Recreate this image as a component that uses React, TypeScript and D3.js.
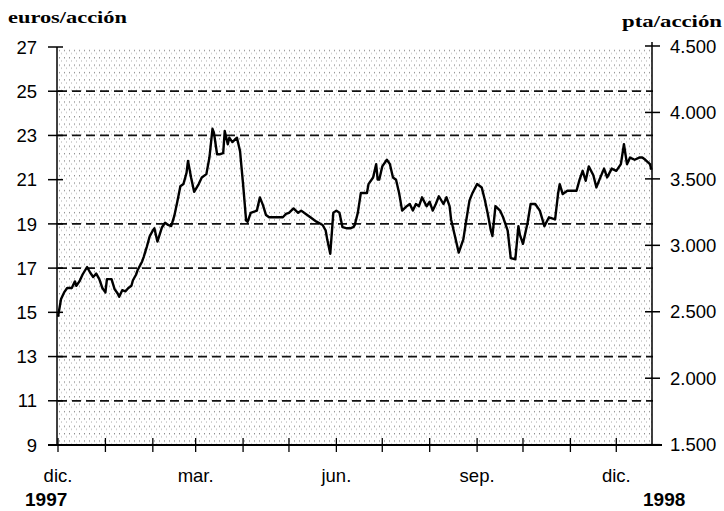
import React from "react";
import * as d3 from "d3";

// ---- data ----
const START = new Date(1997, 11, 1);
const END = new Date(1998, 11, 25);
const dayOffsets = [0,2,4,6,9,11,12,14,16,19,21,23,25,27,29,31,32,35,37,39,40,42,44,46,48,49,51,52,55,56,58,60,62,63,65,68,70,72,74,76,78,80,82,84,85,87,89,92,94,97,99,101,102,104,106,108,109,111,112,114,117,119,121,123,124,126,130,132,134,136,138,142,145,147,149,151,154,157,159,162,165,169,173,175,176,178,180,182,184,186,189,191,193,194,196,198,202,203,206,208,209,210,212,215,217,219,221,223,225,228,230,232,234,236,238,241,243,245,247,249,252,254,256,257,259,262,265,267,269,271,274,277,279,281,283,284,286,289,291,294,296,299,301,302,304,307,309,312,315,318,321,325,327,328,330,333,339,341,343,345,347,350,352,354,357,359,362,365,368,370,372,374,377,380,382,384,387,388];
const euros = [14.8,15.6,15.9,16.1,16.1,16.4,16.2,16.4,16.7,17.05,16.8,16.6,16.75,16.5,16.1,15.9,16.5,16.5,16.05,15.85,15.7,16.0,15.95,16.1,16.2,16.45,16.7,16.9,17.3,17.5,17.95,18.45,18.7,18.8,18.2,18.85,19.05,18.95,18.9,19.35,20.0,20.7,20.8,21.3,21.85,21.1,20.45,20.8,21.1,21.25,22.0,23.3,23.1,22.15,22.15,22.2,23.2,22.6,22.9,22.7,22.9,22.3,20.8,19.15,19.1,19.5,19.6,20.2,19.85,19.4,19.3,19.3,19.3,19.3,19.45,19.5,19.7,19.5,19.6,19.45,19.3,19.1,18.95,18.7,18.3,17.65,19.5,19.6,19.5,18.85,18.8,18.8,18.85,18.95,19.5,20.4,20.4,20.8,21.1,21.7,21.0,21.0,21.6,21.9,21.7,21.1,21.0,20.4,19.6,19.8,19.9,19.6,19.9,19.8,20.2,19.8,20.0,19.6,19.9,20.25,19.9,20.2,19.8,19.2,18.6,17.7,18.3,19.2,20.05,20.4,20.8,20.65,20.1,19.45,18.7,18.45,19.8,19.6,19.3,18.7,17.45,17.4,18.9,18.5,18.1,19.05,19.9,19.9,19.6,18.9,19.3,19.2,20.4,20.8,20.35,20.5,20.5,21.0,21.4,20.95,21.6,21.2,20.65,21.0,21.5,21.1,21.5,21.4,21.7,22.6,21.7,22.0,21.9,22.0,22.0,21.9,21.7,21.45];

const leftTicks = [9, 11, 13, 15, 17, 19, 21, 23, 25, 27];
const dashedGrid = [11, 13, 17, 19, 23, 25];
const rightTicks = [1500, 2000, 2500, 3000, 3500, 4000, 4500];
const PTA_PER_EURO = 166.386;
const monthLabelDates = [new Date(1997, 11, 1), new Date(1998, 2, 1), new Date(1998, 5, 1), new Date(1998, 8, 1), new Date(1998, 11, 1)];
const monthLabels = ["dic.", "mar.", "jun.", "sep.", "dic."];
const leftUnit = "euros/acción";
const rightUnit = "pta/acción";
const yearLeft = "1997";
const yearRight = "1998";

export default function App() {
  const W = 724, H = 511;
  const x = d3.scaleTime().domain([START, END]).range([58, 653]);
  const yL = d3.scaleLinear().domain([9, 27]).range([445, 47]);
  const yR = d3.scaleLinear().domain([9 * PTA_PER_EURO, 27 * PTA_PER_EURO]).range([445, 47]);
  const fmt = d3.formatLocale({ decimal: ",", thousands: ".", grouping: [3], currency: ["", "€"] }).format(",");
  const data = dayOffsets.map((d, i) => ({ date: d3.timeDay.offset(START, d), v: euros[i] }));
  const line = d3.line<{ date: Date; v: number }>().x(d => x(d.date)).y(d => yL(d.v));
  const monthTicks = d3.timeMonth.range(START, d3.timeDay.offset(new Date(1998, 11, 1), 1));
  const sans = "'Liberation Sans', Arial, sans-serif";
  const serif = "'Liberation Serif', 'Times New Roman', serif";
  const x0 = x.range()[0], x1 = x.range()[1];
  return (
    <svg width={W} height={H} style={{ position: "absolute", left: 0, top: 0, background: "#fff" }}>
      <defs>
        <pattern id="dots" width="5" height="7.37" patternUnits="userSpaceOnUse" x={x0} y={47}>
          <rect x="1" y="3" width="1" height="1" fill="#666" />
          <rect x="3" y="6" width="1" height="1" fill="#aaa" />
        </pattern>
      </defs>
      <rect x={x0} y={47} width={x1 - x0} height={445 - 47} fill="url(#dots)" />
      {dashedGrid.map(v => (
        <line key={v} x1={x0} x2={x1} y1={yL(v)} y2={yL(v)} stroke="#111" strokeWidth={1.8} strokeDasharray="9 5" />
      ))}
      {/* axes */}
      <line x1={x0 - 1} x2={x0 - 1} y1={47} y2={446} stroke="#000" strokeWidth={1.5} />
      <line x1={x1 - 1} x2={x1 - 1} y1={42} y2={446} stroke="#000" strokeWidth={1.5} />
      <line x1={48} x2={662} y1={445} y2={445} stroke="#000" strokeWidth={1.8} />
      {leftTicks.map(v => (
        <g key={v}>
          <line x1={48} x2={63} y1={yL(v)} y2={yL(v)} stroke="#000" strokeWidth={1.5} />
          <text x={37} y={yL(v)} dy="0.36em" textAnchor="end" fontFamily={sans} fontSize={18.5}>{v}</text>
        </g>
      ))}
      {rightTicks.map(v => (
        <g key={v}>
          <line x1={645} x2={660} y1={yR(v)} y2={yR(v)} stroke="#000" strokeWidth={1.5} />
          <text x={670} y={yR(v)} dy="0.36em" textAnchor="start" fontFamily={sans} fontSize={18.5}>{fmt(v)}</text>
        </g>
      ))}
      {monthTicks.map((d, i) => (
        <line key={i} x1={x(d)} x2={x(d)} y1={438} y2={452} stroke="#000" strokeWidth={1.3} />
      ))}
      {monthLabelDates.map((d, i) => (
        <text key={i} x={x(d)} y={482} textAnchor="middle" fontFamily={sans} fontSize={18.5}>{monthLabels[i]}</text>
      ))}
      <text x={25} y={506} fontFamily={sans} fontWeight="bold" fontSize={19}>{yearLeft}</text>
      <text x={643} y={506} fontFamily={sans} fontWeight="bold" fontSize={19}>{yearRight}</text>
      <text x={8} y={23} fontFamily={serif} fontWeight="bold" fontSize={17} textLength={119} lengthAdjust="spacingAndGlyphs">{leftUnit}</text>
      <text x={622} y={27} fontFamily={serif} fontWeight="bold" fontSize={17} textLength={100} lengthAdjust="spacingAndGlyphs">{rightUnit}</text>
      <path d={line(data) || ""} fill="none" stroke="#000" strokeWidth={2.4} strokeLinejoin="round" />
    </svg>
  );
}
